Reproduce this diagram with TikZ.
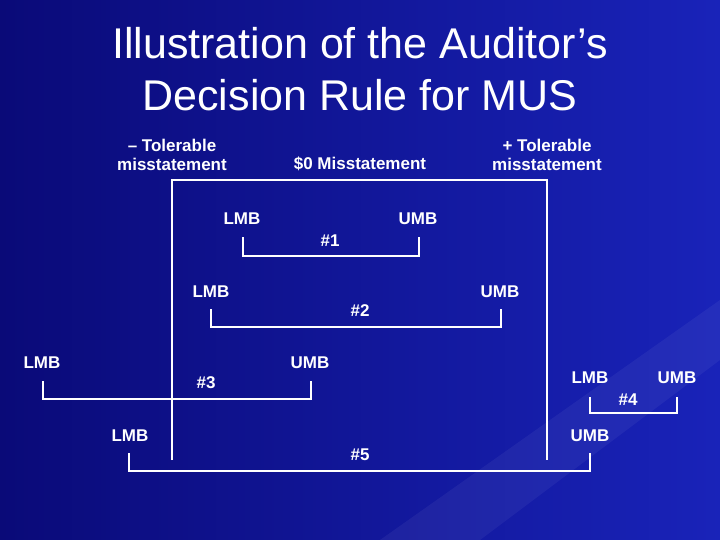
\documentclass[tikz,border=0pt]{standalone}
\usepackage{fontspec}
\setmainfont{Liberation Sans}
\begin{document}
\begin{tikzpicture}[x=1pt,y=-1pt,
  lbl/.style={text=white,font=\bfseries\fontsize{17}{19}\selectfont,inner sep=0pt},
  hdr/.style={text=white,font=\bfseries\fontsize{17}{19}\selectfont,align=center,inner sep=0pt},
  br/.style={draw=white,line width=2.5pt}]
\definecolor{bgdark}{RGB}{10,10,120}
\definecolor{bglight}{RGB}{25,35,185}
\shade[left color=bgdark,right color=bglight] (0,0) rectangle (720,540);
\fill[white,opacity=0.05] (380,540) -- (720,300) -- (720,360) -- (480,540) -- cycle;
\useasboundingbox (0,0) rectangle (720,540);
\node[text=white,font=\fontsize{43}{52}\selectfont,align=center] (title) at (360,69) {Illustration of the Auditor’s\\Decision Rule for MUS};
\node[hdr] (hl) at (172,155) {– Tolerable\\misstatement};
\node[hdr] (hm) at (360,164) {\$0 Misstatement};
\node[hdr] (hr) at (547,155) {+ Tolerable\\misstatement};
\coordinate (fa) at (172,460); \coordinate (fb) at (172,180);
\coordinate (fc) at (547,180); \coordinate (fd) at (547,460);
\draw[br] (fa) -- (fb) -- (fc) -- (fd);
% bracket 1
\node[lbl] (l1) at (242,219) {LMB}; \node[lbl] (u1) at (418,219) {UMB}; \node[lbl] (n1) at (330,241) {\#1};
\coordinate (a1) at (243,237); \coordinate (b1) at (243,256); \coordinate (c1) at (419,256); \coordinate (d1) at (419,237);
\draw[br] (a1) -- (b1) -- (c1) -- (d1);
% bracket 2
\node[lbl] (l2) at (211,292) {LMB}; \node[lbl] (u2) at (500,292) {UMB}; \node[lbl] (n2) at (360,311) {\#2};
\coordinate (a2) at (211,309); \coordinate (b2) at (211,327); \coordinate (c2) at (501,327); \coordinate (d2) at (501,309);
\draw[br] (a2) -- (b2) -- (c2) -- (d2);
% bracket 3
\node[lbl] (l3) at (42,363) {LMB}; \node[lbl] (u3) at (310,363) {UMB}; \node[lbl] (n3) at (206,383) {\#3};
\coordinate (a3) at (43,381); \coordinate (b3) at (43,399); \coordinate (c3) at (311,399); \coordinate (d3) at (311,381);
\draw[br] (a3) -- (b3) -- (c3) -- (d3);
% bracket 4
\node[lbl] (l4) at (590,378) {LMB}; \node[lbl] (u4) at (677,378) {UMB}; \node[lbl] (n4) at (628,400) {\#4};
\coordinate (a4) at (590,397); \coordinate (b4) at (590,413); \coordinate (c4) at (677,413); \coordinate (d4) at (677,397);
\draw[br] (a4) -- (b4) -- (c4) -- (d4);
% bracket 5
\node[lbl] (l5) at (130,436) {LMB}; \node[lbl] (u5) at (590,436) {UMB}; \node[lbl] (n5) at (360,455) {\#5};
\coordinate (a5) at (129,453); \coordinate (b5) at (129,471); \coordinate (c5) at (590,471); \coordinate (d5) at (590,453);
\draw[br] (a5) -- (b5) -- (c5) -- (d5);
\end{tikzpicture}
\end{document}
